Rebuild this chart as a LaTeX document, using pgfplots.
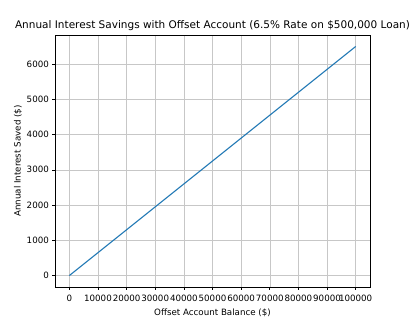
\documentclass[border=0pt]{standalone}
\usepackage{pgfplots}
\pgfplotsset{compat=1.18}
\usepackage{fontspec}
\setmainfont{DejaVu Sans}
\definecolor{mplblue}{HTML}{1F77B4}
\begin{document}
\begin{tikzpicture}
\path[use as bounding box] (0,0) rectangle (419pt,330pt);
\begin{axis}[
  at={(55pt,43pt)}, anchor=south west,
  width=315pt, height=252pt, scale only axis,
  xmin=-5000, xmax=105000, ymin=-325, ymax=6825,
  xtick={0,10000,...,100000},
  ytick={0,1000,...,6000},
  scaled ticks=false,
  /pgf/number format/.cd, set thousands separator={}, fixed, assume math mode=true,
  /pgfplots/.cd,
  tick label style={font=\fontsize{8.7}{10}\selectfont},
  label style={font=\fontsize{8.7}{10}\selectfont},
  title style={font=\fontsize{10.5}{12}\selectfont, at={(0.5,1)}, yshift=-5pt},
  title={Annual Interest Savings with Offset Account (6.5\% Rate on \$500,000 Loan)},
  xlabel={Offset Account Balance (\$)},
  ylabel={Annual Interest Saved (\$)},
  xlabel style={yshift=-1pt},
  ylabel style={yshift=-2pt},
  grid=major,
  grid style={color=black!22, line width=0.5pt},
  axis line style={line width=0.6pt},
  tick style={black, line width=0.6pt},
  tick align=outside, tickwidth=2.6pt,
  xtick pos=bottom, ytick pos=left,
  xticklabel style={yshift=-1.5pt},
  yticklabel style={xshift=0pt},
]
\addplot[color=mplblue, line width=1.1pt] coordinates {
(0,0) (10000,650) (20000,1300) (30000,1950) (40000,2600) (50000,3250)
(60000,3900) (70000,4550) (80000,5200) (90000,5850) (100000,6500)
};
\end{axis}
\end{tikzpicture}
\end{document}
